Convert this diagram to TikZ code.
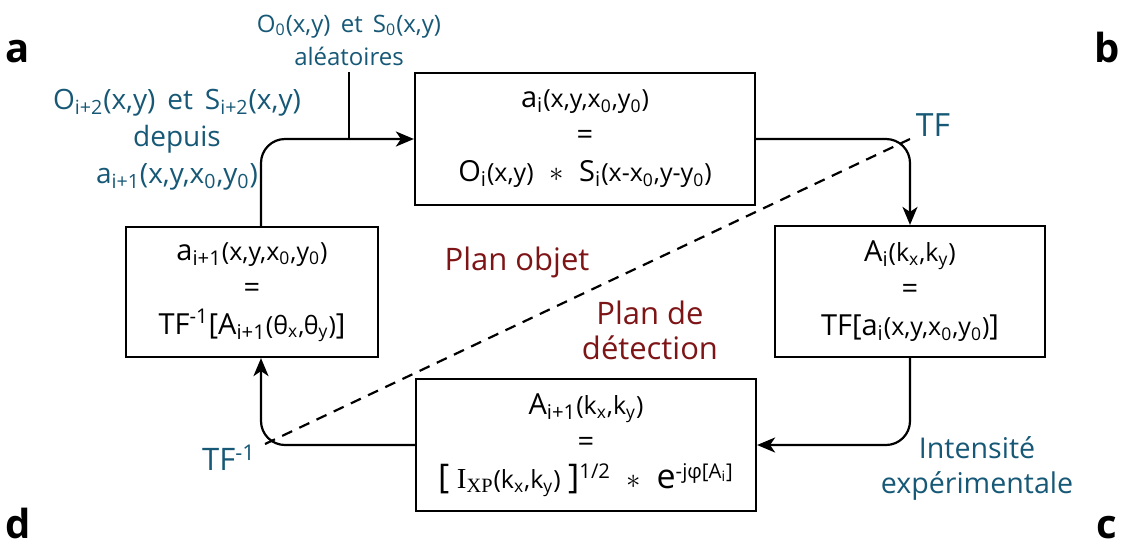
\documentclass[tikz,border=0pt]{standalone}
\usepackage{fontspec}
\setmainfont{Open Sans}
\newfontfamily\xpfont{Liberation Serif}
\usetikzlibrary{arrows.meta,positioning}
\definecolor{bleu}{RGB}{22,88,118}
\definecolor{bordeaux}{RGB}{125,20,22}
\newcommand\lo[1]{\textsubscript{#1}}
\newcommand\hi[1]{\textsuperscript{#1}}
\newcommand\pa[1]{{\fontsize{12.5}{12.5}\selectfont #1}}
\newcommand\gr[1]{{\fontsize{17}{17}\selectfont #1}}

\begin{document}
\begin{tikzpicture}[x=0.5pt,y=-0.5pt,font=\fontsize{14.5}{18.5}\selectfont,
  bx/.style={draw,line width=1.1pt,align=center,inner sep=0pt},
  arr/.style={-{Stealth[length=9pt,width=7.5pt,inset=2.5pt]},line width=1.1pt,rounded corners=12pt},
  lbl/.style={text=bleu,align=center},
  plan/.style={text=bordeaux,align=center,font=\fontsize{15.5}{17.5}\selectfont},
  tag/.style={font=\fontsize{20}{20}\selectfont\bfseries,anchor=base,inner sep=0pt}]
  \useasboundingbox (0,0) rectangle (1124,547);
  % les quatre etapes
  \node[bx,minimum width=170pt,minimum height=66pt](top) at (585,139){a\lo{i}\pa{(x,y,x\lo{0},y\lo{0})}\\=\\O\lo{i}\pa{(x,y)} \;$*$\; S\lo{i}\pa{(x-x\lo{0},y-y\lo{0})}};
  \node[bx,minimum width=135pt,minimum height=65.5pt](rgt) at (910,291.5){A\lo{i}\pa{(k\lo{x},k\lo{y})}\\=\\TF[a\lo{i}\pa{(x,y,x\lo{0},y\lo{0})}]};
  \node[bx,minimum width=170pt,minimum height=66pt](bot) at (586,445){A\lo{i+1}\pa{(k\lo{x},k\lo{y})}\\=\\\gr{[} {\xpfont I}\lo{\xpfont XP}\pa{(k\lo{x},k\lo{y})} \gr{]}\hi{1/2} \;$*$\; \gr{e}\hi{-jφ[A\lo{i}]}};
  \node[bx,minimum width=126pt,minimum height=65pt](lft) at (252,292){a\lo{i+1}\pa{(x,y,x\lo{0},y\lo{0})}\\=\\TF\hi{-1}[A\lo{i+1}\pa{(θ\lo{x},θ\lo{y})}]};
  % textes
  \node[lbl,font=\fontsize{12}{16.5}\selectfont](init) at (349,40){O\lo{0}(x,y)\, et\, S\lo{0}(x,y)\\aléatoires};
  \node[lbl,font=\fontsize{14}{18.5}\selectfont](src) at (177,140){O\lo{i+2}(x,y)\, et\, S\lo{i+2}(x,y)\\depuis\\a\lo{i+1}(x,y,x\lo{0},y\lo{0})};
  \node[lbl,font=\fontsize{16}{16}\selectfont](tf) at (933,125){TF};
  \node[lbl,font=\fontsize{15.5}{15.5}\selectfont](tfi) at (229,458){TF\hi{-1}};
  \node[lbl,font=\fontsize{14.3}{17.5}\selectfont](int) at (977,468){Intensité\\expérimentale};
  \node[plan](obj) at (517,262){Plan objet};
  \node[plan](det) at (650,330){Plan de\\détection};
  \node[tag](la) at (18,62){a};
  \node[tag](lb) at (1107,62){b};
  \node[tag](lc) at (1107,538){c};
  \node[tag](ld) at (18,538){d};
  % boucle
  \coordinate (up) at (261,139);
  \coordinate (d1) at (265,444);
  \coordinate (d2) at (910,139);
  \draw[arr](lft.north -| up) |- (top.west);
  \draw[line width=1.1pt](init.south) -- (init.south |- top.west);
  \draw[arr](top.east) -| (rgt.north);
  \draw[arr](rgt.south) |- (bot.east);
  \draw[arr](bot.west) -| (lft.south -| up);
  \draw[line width=1.1pt,dash pattern=on 5.5pt off 4pt](d1) -- (d2);
\end{tikzpicture}
\end{document}
